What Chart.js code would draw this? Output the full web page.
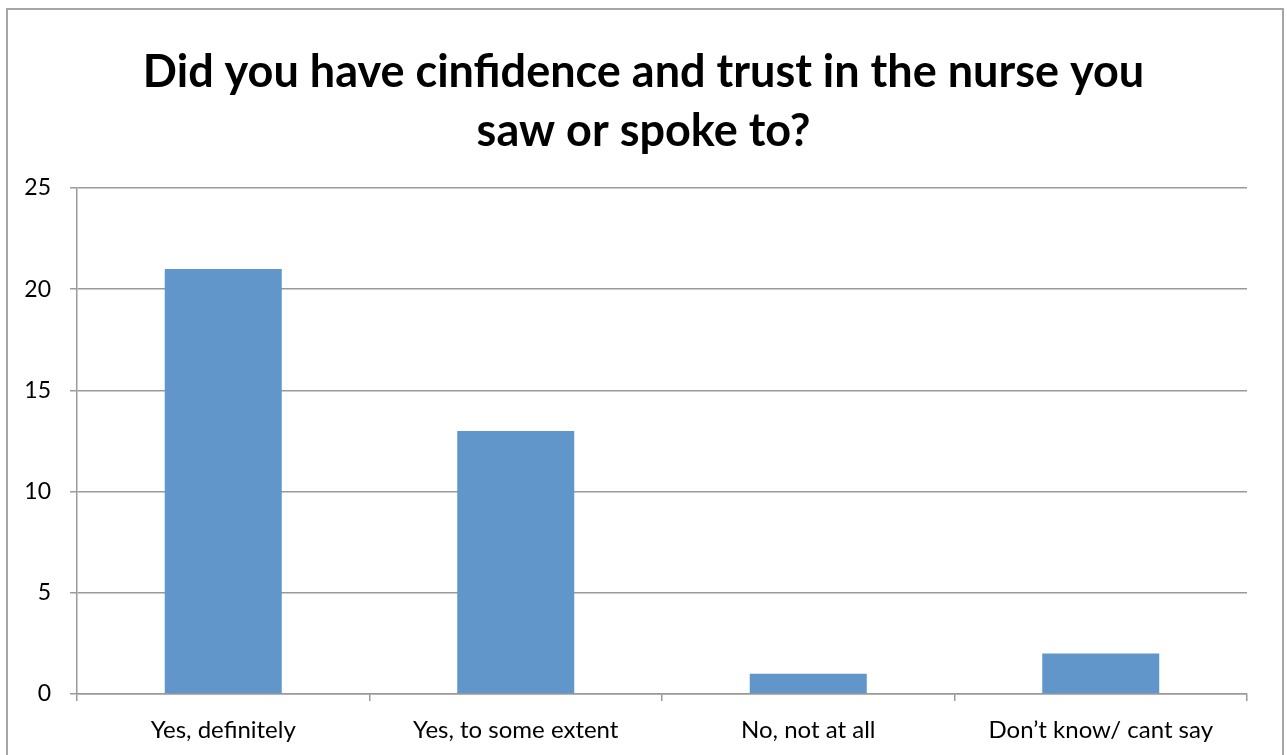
<!DOCTYPE html>
<html>
<head>
<meta charset="utf-8">
<title>Confidence and trust in the nurse</title>
<script src="https://cdn.jsdelivr.net/npm/chart.js@4.4.1/dist/chart.umd.min.js"></script>
<style>
  html, body { margin: 0; padding: 0; background: #fff; overflow: hidden; }
  #frame {
    position: absolute; left: 6px; top: 8px; width: 1278px; height: 800px;
    border: 2px solid #a6a6a6; box-sizing: border-box;
  }
  #wrap { position: absolute; left: 0; top: 0; width: 1287px; height: 755px; }
</style>
</head>
<body>
<div id="frame"></div>
<div id="wrap"><canvas id="nurse-trust"></canvas></div>
<script>
  // Survey answers and counts
  var categories = ["Yes, definitely", "Yes, to some extent", "No, not at all", "Don\u2019t know/ cant say"];
  var counts = [21, 13, 1, 2];
  var yTicks = [0, 5, 10, 15, 20, 25];

  var titleLines = ["Did you have cinfidence and trust in the nurse you", "saw or spoke to?"];

  Chart.defaults.font.family = "Lato, 'Open Sans', sans-serif";
  Chart.defaults.color = "#000";

  var ctx = document.getElementById("nurse-trust").getContext("2d");
  var chart = new Chart(ctx, {
    type: "bar",
    data: {
      labels: categories,
      datasets: [
        {
          data: counts,
          backgroundColor: "#6096c9",
          borderWidth: 0,
          barPercentage: 1,
          categoryPercentage: 0.4,
        },
      ],
    },
    options: {
      responsive: true,
      maintainAspectRatio: false,
      animation: false,
      layout: { padding: 0 },
      plugins: {
        legend: { display: false },
        tooltip: { enabled: false },
        title: {
          display: true,
          text: titleLines,
          color: "#000",
          font: { size: 45, weight: "bold", lineHeight: 59 / 45 },
          padding: { top: 43, bottom: 27 },
        },
      },
      scales: {
        x: {
          afterFit: function (axis) {
            axis.height = 61;
          },
          grid: {
            offset: true,
            drawOnChartArea: false,
            tickLength: 7,
            color: "#9a9a9a",
            lineWidth: 1.5,
          },
          border: { display: true, color: "#9a9a9a", width: 1.5 },
          ticks: { padding: 15, font: { size: 24 } },
        },
        y: {
          min: 0,
          max: 25,
          afterBuildTicks: function (axis) {
            axis.ticks = yTicks.map(function (v) { return { value: v }; });
          },
          afterFit: function (axis) {
            axis.width = 77;
          },
          grid: { tickLength: 7, color: "#9a9a9a", lineWidth: 1.5 },
          border: { display: true, color: "#9a9a9a", width: 1.5 },
          ticks: { padding: 19, font: { size: 23 } },
        },
        // empty right-hand axis, only reserves the margin on the right
        spacer: {
          type: "linear",
          position: "right",
          min: 0,
          max: 25,
          afterFit: function (axis) {
            axis.width = 40;
          },
          grid: { display: false },
          border: { display: false },
          ticks: { display: false },
        },
      },
    },
  });
</script>
</body>
</html>
